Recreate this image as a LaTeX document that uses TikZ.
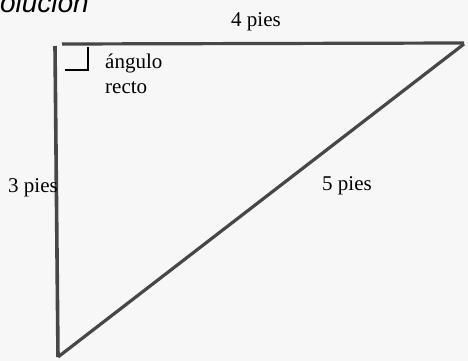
\documentclass[tikz,border=0pt]{standalone}
\usepackage{fontspec}
\setmainfont{Liberation Serif}
\setsansfont{Liberation Sans}
\usetikzlibrary{positioning}

\begin{document}
\begin{tikzpicture}[x=1pt, y=-1pt,
    side/.style={line width=3.2pt, color=black!72},
    lbl/.style={inner sep=0pt, font=\fontsize{21}{25}\selectfont}]
    \fill[black!3] (0,0) rectangle (468,361);
    \useasboundingbox (0,0) rectangle (468,361);

    \node[anchor=base east, inner sep=0pt, font=\fontsize{28}{32}\selectfont\sffamily\itshape] (title) at (89,13) {olución};

    \coordinate (tl) at (62,44);
    \coordinate (tr) at (464,43);
    \coordinate (lt) at (55,46);
    \coordinate (bl) at (58,357);

    \draw[side] (tl) -- (tr);
    \draw[side, line width=3.6pt] (lt) -- (bl);
    \draw[side] ([yshift=-1pt]tr) -- (bl);

    % marca del angulo recto
    \coordinate (m1) at (65,70);
    \coordinate (m2) at (88,70);
    \coordinate (m3) at (88,47);
    \draw[line width=2.2pt] (m1) -- (m2) -- (m3);

    \node[lbl, anchor=base] (top) at (256,27) {4 pies};
    \node[lbl, anchor=base west] (left) at (8,192) {3 pies};
    \node[lbl, anchor=base west] (hyp) at (322,190) {5 pies};
    \node[lbl, anchor=base west] (ang) at (105,68) {ángulo};
    \node[lbl, anchor=base west] (rec) at (105,93) {recto};

\end{tikzpicture}
\end{document}
